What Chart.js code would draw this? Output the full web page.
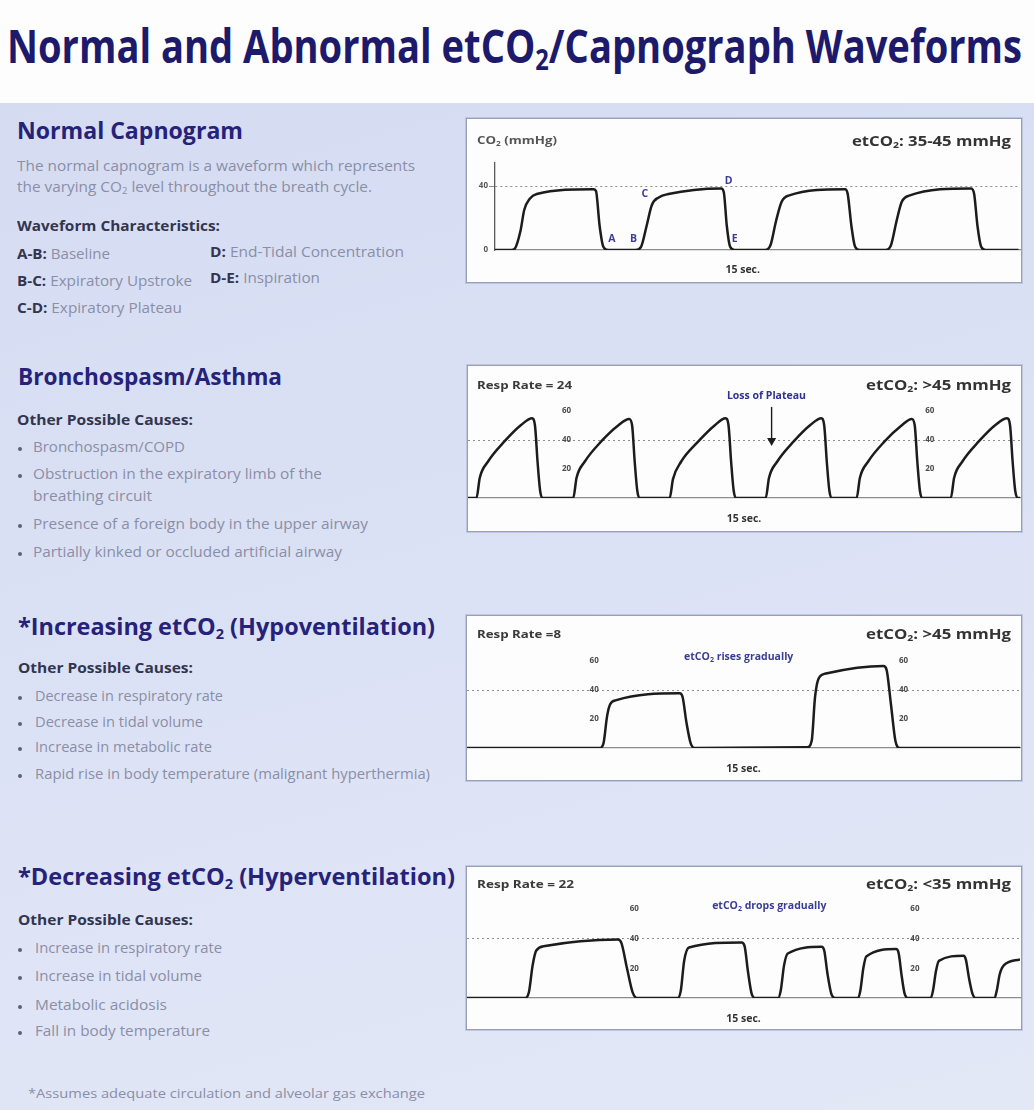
<!DOCTYPE html>
<html>
<head>
<meta charset="utf-8">
<title>Normal and Abnormal etCO2/Capnograph Waveforms</title>
<script src="https://cdn.jsdelivr.net/npm/chart.js@4.4.1/dist/chart.umd.min.js"></script>
<style>
  html, body { margin: 0; padding: 0; }
  body { width: 1034px; height: 1110px; position: relative; overflow: hidden;
    font-family: "Open Sans", sans-serif; background: #fdfdfe; }
  #panel { position: absolute; left: 0; top: 103px; width: 1034px; height: 1007px;
    background: linear-gradient(165deg, #d5dcf2 0%, #dce2f5 50%, #e3e8f7 100%); }
  .t { position: absolute; white-space: nowrap; transform-origin: 0 50%; line-height: 1; }
  .t sub { font-size: 0.62em; vertical-align: -0.25em; line-height: 0; }
  .title { font-weight: 700; color: #1d1a6c; font-size: 46px; }
  .head { font-weight: 700; color: #26227a; font-size: 23px; }
  .body { color: #8a8ea6; font-size: 14px; }
  .subh { font-weight: 700; color: #33354f; font-size: 13.5px; }
  .body b { color: #33354f; }
  .foot { color: #8a8ea6; font-size: 13px; }
  .capS { font-weight: 700; color: #555; font-size: 10px; }
  .capM { font-weight: 700; color: #3a3a3a; font-size: 11px; }
  .capL { font-weight: 700; color: #333; font-size: 15px; }
  .dot { position: absolute; width: 4px; height: 4px; border-radius: 50%; background: #5d6178; }
  .box { position: absolute; background: #fdfdfe; border: 1px solid #98a0b8;
    box-shadow: 0 0 0 1px rgba(165, 175, 205, 0.55); }
  .box canvas { position: absolute; left: 0; top: 0; }
</style>
</head>
<body>
<div id="panel"></div>
<div class="box" id="box1" style="left:466px;top:118px;width:554px;height:163px"><canvas id="normalChart" width="554" height="163"></canvas></div>
<div class="box" id="box2" style="left:467px;top:365px;width:553px;height:165px"><canvas id="bronchoChart" width="553" height="165"></canvas></div>
<div class="box" id="box3" style="left:466px;top:615px;width:554px;height:164px"><canvas id="hypoChart" width="554" height="164"></canvas></div>
<div class="box" id="box4" style="left:466px;top:866px;width:554px;height:162px"><canvas id="hyperChart" width="554" height="162"></canvas></div>
<script>
// waveform values: time in seconds, CO2 in mmHg
const normalTime = [0, 0.44, 0.54, 0.69, 0.79, 0.94, 1.13, 2.66, 2.73, 2.83, 2.93, 3.06,
  3.80, 3.95, 4.10, 4.24, 4.44, 4.69, 6.12, 6.19, 6.27, 6.36, 6.48,
  7.30, 7.45, 7.60, 7.75, 7.94, 9.47, 9.54, 9.64, 9.74, 9.87,
  10.56, 10.71, 10.86, 11.00, 11.20, 12.88, 12.96, 13.05, 13.15, 13.27, 14.16];
const normalCO2 = [0, 0, 1, 12, 25, 32, 35, 38, 37, 15, 2, 0,
  0, 2, 15, 28, 33, 35, 38.5, 36, 15, 2, 0,
  0, 3, 18, 30, 34, 38, 35, 15, 2, 0,
  0, 3, 18, 30, 34, 38.5, 35, 15, 2, 0, 0];

const bronchoTime = [0, 0.23, 0.32, 0.54, 0.99, 1.45, 1.74, 1.82, 1.89, 1.96, 2.02,
  2.86, 2.95, 3.17, 3.62, 4.08, 4.38, 4.46, 4.53, 4.60, 4.66,
  5.48, 5.57, 5.79, 6.24, 6.70, 7.00, 7.08, 7.15, 7.22, 7.28,
  8.09, 8.18, 8.40, 8.85, 9.31, 9.60, 9.68, 9.75, 9.82, 9.88,
  10.56, 10.65, 10.87, 11.32, 11.78, 12.06, 12.14, 12.21, 12.28, 12.34,
  13.12, 13.21, 13.43, 13.88, 14.34, 14.65, 14.73, 14.80, 14.87, 14.94, 15];
const bronchoCO2 = [0, 0, 14, 25, 39, 50.5, 55, 50, 25, 5, 0,
  0, 14, 25, 39, 50, 54.5, 50, 25, 5, 0,
  0, 13, 25, 38.5, 50, 55, 50, 25, 5, 0,
  0, 14, 25, 39, 50.5, 55, 50, 25, 5, 0,
  0, 14, 25, 39, 50, 54.5, 50, 25, 5, 0,
  0, 14, 25, 39, 50.5, 55, 50, 25, 5, 0, 0];

const hypoTime = [0, 3.60, 3.70, 3.80, 3.88, 4.05, 5.77, 5.85, 5.95, 6.07, 6.19,
  9.23, 9.35, 9.44, 9.54, 9.77, 11.30, 11.38, 11.50, 11.62, 11.74, 15];
const hypoCO2 = [0, 0, 3, 22, 30, 33, 37.7, 35, 18, 3, 0,
  0.5, 5, 35, 48, 51.5, 56.5, 54, 30, 5, 0, 0];

const hyperTime = [0, 1.58, 1.68, 1.78, 1.88, 2.12, 4.10, 4.19, 4.34, 4.49, 4.61,
  5.72, 5.80, 5.89, 6.02, 7.45, 7.53, 7.62, 7.72, 7.82,
  8.44, 8.51, 8.60, 8.70, 9.62, 9.69, 9.78, 9.88, 9.98,
  10.61, 10.67, 10.75, 10.83, 11.64, 11.71, 11.79, 11.87, 11.97,
  12.58, 12.64, 12.72, 12.80, 13.47, 13.53, 13.62, 13.71, 13.80,
  14.31, 14.37, 14.45, 14.56, 15];
const hyperCO2 = [0, 0, 4, 22, 32, 35, 39.5, 37, 20, 4, 0,
  0, 5, 25, 34, 37.5, 35, 18, 3, 0,
  0, 5, 22, 30, 34.5, 32, 16, 3, 0,
  0, 5, 20, 28, 33, 30, 15, 3, 0,
  0, 5, 18, 25, 28.5, 26, 13, 3, 0,
  0, 5, 16, 22, 26];

// axis ticks
const normalAxisTicks = [0, 40];
const gridValues = [40];
const tickValues = [60, 40, 20];
const bronchoTickTimes = [2.68, 12.55];
const hypoTickTimes = [3.45, 11.84];
const hyperTickTimes = [4.54, 12.15];

// labels placed on the waveforms
const normalLetters = ["A", "B", "C", "D", "E"];
const normalLetterTimes = [3.16, 3.75, 4.05, 6.32, 6.48];
const normalLetterValues = [7, 7, 35, 43, 7];

Chart.defaults.font.family = "'Open Sans', sans-serif";

function drawSubText(ctx, text, cx, cy, size, color) {
  const parts = text.split("_2");
  const main = `bold ${size}px "Open Sans", sans-serif`;
  const small = `bold ${Math.round(size * 0.65)}px "Open Sans", sans-serif`;
  ctx.font = small;
  const sw = ctx.measureText("2").width;
  ctx.font = main;
  const total = parts.reduce((s, p) => s + ctx.measureText(p).width, 0) + sw * (parts.length - 1);
  let xx = cx - total / 2;
  ctx.fillStyle = color;
  ctx.textAlign = "left";
  ctx.textBaseline = "middle";
  parts.forEach((p, i) => {
    ctx.font = main;
    ctx.fillText(p, xx, cy);
    xx += ctx.measureText(p).width;
    if (i < parts.length - 1) {
      ctx.font = small;
      ctx.fillText("2", xx, cy + size * 0.3);
      xx += sw;
    }
  });
}

const marksPlugin = (marks) => ({
  id: "waveMarks",
  afterDatasetsDraw(chart) {
    const { ctx, scales: { x, y } } = chart;
    ctx.save();
    (marks.tickTimes || []).forEach((t) => {
      tickValues.forEach((v) => {
        drawSubText(ctx, String(v), x.getPixelForValue(t), y.getPixelForValue(v), 8, "#4b4b4b");
      });
    });
    (marks.notes || []).forEach((n) => {
      drawSubText(ctx, n.text, x.getPixelForValue(n.t), y.getPixelForValue(n.v), n.size, n.color);
    });
    (marks.arrows || []).forEach((a) => {
      const px = x.getPixelForValue(a.t);
      const y1 = y.getPixelForValue(a.from);
      const y2 = y.getPixelForValue(a.to);
      ctx.strokeStyle = "#1c1c1c";
      ctx.fillStyle = "#1c1c1c";
      ctx.lineWidth = 1.4;
      ctx.beginPath();
      ctx.moveTo(px, y1);
      ctx.lineTo(px, y2 - 7);
      ctx.stroke();
      ctx.beginPath();
      ctx.moveTo(px - 4.5, y2 - 8);
      ctx.lineTo(px + 4.5, y2 - 8);
      ctx.lineTo(px, y2);
      ctx.closePath();
      ctx.fill();
    });
    ctx.restore();
  },
});

function makeWave(id, times, values, opt) {
  const points = times.map((t, i) => ({ x: t, y: values[i] }));
  const withAxis = !!opt.axisTicks;
  return new Chart(document.getElementById(id), {
    type: "line",
    data: {
      datasets: [{
        data: points,
        borderColor: "#1c1c1c",
        borderWidth: 2.5,
        pointRadius: 0,
        fill: false,
        cubicInterpolationMode: "monotone",
      }],
    },
    options: {
      responsive: false,
      animation: false,
      events: [],
      layout: { padding: { top: opt.top, right: 1, left: 0, bottom: 0 } },
      plugins: { legend: { display: false }, tooltip: { enabled: false } },
      scales: {
        x: {
          type: "linear",
          min: 0,
          max: opt.xMax,
          grid: { display: false },
          ticks: { display: false },
          border: { display: true, color: "#8d8d8d", width: 1.3 },
          title: {
            display: !withAxis,
            text: "15 sec.",
            color: "#333",
            font: { size: 10.5, weight: "bold" },
            padding: { top: 0, bottom: opt.capPad },
          },
          afterFit: (s) => { s.height = opt.xH; },
        },
        y: {
          min: 0,
          max: opt.yMax,
          afterBuildTicks: (s) => {
            s.ticks = (withAxis ? opt.axisTicks : gridValues).map((v) => ({ value: v }));
          },
          afterFit: (s) => { s.width = withAxis ? 28 : 0; },
          ticks: {
            display: withAxis,
            color: "#555",
            padding: 1,
            font: { size: 8, weight: "bold" },
          },
          grid: {
            color: (c) => (c.tick && c.tick.value === 40 ? "#8e8e8e" : "transparent"),
            lineWidth: 1,
            drawTicks: withAxis,
            tickLength: 6,
          },
          border: { display: withAxis, color: "#5a5a5a", width: 1.3, dash: [2, 3] },
        },
      },
    },
    plugins: [marksPlugin(opt.marks || {})],
  });
}

makeWave("normalChart", normalTime, normalCO2, {
  xMax: 14.2, yMax: 54.4, top: 44, xH: 32, capPad: 5.4, axisTicks: normalAxisTicks,
  marks: {
    notes: normalLetters.map((l, i) => ({
      text: l, t: normalLetterTimes[i], v: normalLetterValues[i], size: 10.5, color: "#3a3d96",
    })).concat([{ text: "15 sec.", t: 6.7, v: -12.3, size: 10.5, color: "#333" }]),
  },
});

makeWave("bronchoChart", bronchoTime, bronchoCO2, {
  xMax: 15, yMax: 60, top: 45, xH: 33, capPad: 5.4,
  marks: {
    tickTimes: bronchoTickTimes,
    notes: [{ text: "Loss of Plateau", t: 8.11, v: 70, size: 10.5, color: "#2f3290" }],
    arrows: [{ t: 8.25, from: 62.8, to: 35.9 }],
  },
});

makeWave("hypoChart", hypoTime, hypoCO2, {
  xMax: 15, yMax: 60, top: 45, xH: 32, capPad: 4.4,
  marks: {
    tickTimes: hypoTickTimes,
    notes: [{ text: "etCO_2 rises gradually", t: 7.37, v: 63, size: 10.5, color: "#3a3d96" }],
  },
});

makeWave("hyperChart", hyperTime, hyperCO2, {
  xMax: 15, yMax: 60, top: 42, xH: 31, capPad: 3.4,
  marks: {
    tickTimes: hyperTickTimes,
    notes: [{ text: "etCO_2 drops gradually", t: 8.2, v: 62, size: 10.5, color: "#3a3d96" }],
  },
});

// page text: html, x, centre y, width, class, align
const textLines = [
  ["Normal and Abnormal etCO<sub>2</sub>/Capnograph Waveforms", 7, 48, 1015, "title"],
  ["Normal Capnogram", 17, 132, 226, "head"],
  ["The normal capnogram is a waveform which represents", 17, 167, 398, "body"],
  ["the varying CO<sub>2</sub> level throughout the breath cycle.", 17, 188, 355, "body"],
  ["Waveform Characteristics:", 17, 228, 203, "subh"],
  ["<b>A-B:</b> Baseline", 17, 255, 93, "body"],
  ["<b>D:</b> End-Tidal Concentration", 210, 253, 194, "body"],
  ["<b>B-C:</b> Expiratory Upstroke", 17, 282, 175, "body"],
  ["<b>D-E:</b> Inspiration", 210, 279, 110, "body"],
  ["<b>C-D:</b> Expiratory Plateau", 17, 309, 165, "body"],
  ["Bronchospasm/Asthma", 18, 378, 264, "head"],
  ["Other Possible Causes:", 17, 422, 176, "subh"],
  ["Bronchospasm/COPD", 33, 448, 152, "body"],
  ["Obstruction in the expiratory limb of the", 33, 475, 289, "body"],
  ["breathing circuit", 33, 497, 119, "body"],
  ["Presence of a foreign body in the upper airway", 33, 525, 335, "body"],
  ["Partially kinked or occluded artificial airway", 33, 553, 309, "body"],
  ["*Increasing etCO<sub>2</sub> (Hypoventilation)", 18, 628, 417, "head"],
  ["Other Possible Causes:", 18, 670, 175, "subh"],
  ["Decrease in respiratory rate", 35, 697, 188, "body"],
  ["Decrease in tidal volume", 35, 723, 168, "body"],
  ["Increase in metabolic rate", 35, 748, 177, "body"],
  ["Rapid rise in body temperature (malignant hyperthermia)", 35, 775, 395, "body"],
  ["*Decreasing etCO<sub>2</sub> (Hyperventilation)", 18, 878, 437, "head"],
  ["Other Possible Causes:", 18, 922, 175, "subh"],
  ["Increase in respiratory rate", 35, 949, 187, "body"],
  ["Increase in tidal volume", 35, 977, 167, "body"],
  ["Metabolic acidosis", 35, 1006, 132, "body"],
  ["Fall in body temperature", 35, 1032, 175, "body"],
  ["*Assumes adequate circulation and alveolar gas exchange", 28, 1094, 397, "foot"],
  ["CO<sub>2</sub> (mmHg)", 477, 141, 80, "capS"],
  ["etCO<sub>2</sub>: 35-45 mmHg", 1011, 141, 159, "capL", "right"],
  ["Resp Rate = 24", 477, 385, 95, "capM"],
  ["etCO<sub>2</sub>: &gt;45 mmHg", 1011, 385, 145, "capL", "right"],
  ["Resp Rate =8", 477, 634, 84, "capM"],
  ["etCO<sub>2</sub>: &gt;45 mmHg", 1011, 634, 145, "capL", "right"],
  ["Resp Rate = 22", 477, 884, 97, "capM"],
  ["etCO<sub>2</sub>: &lt;35 mmHg", 1011, 884, 145, "capL", "right"],
];
const bulletRows = [448, 475, 525, 553, 697, 723, 748, 775, 949, 977, 1006, 1032];

textLines.forEach(([html, x, yc, w, cls, align]) => {
  const el = document.createElement("div");
  el.className = "t " + cls;
  el.innerHTML = html;
  document.body.appendChild(el);
  const fs = parseFloat(getComputedStyle(el).fontSize);
  const actual = el.getBoundingClientRect().width;
  el.style.transform = `scaleX(${w / actual})`;
  el.style.left = (align === "right" ? x - w : x) + "px";
  el.style.top = yc - 0.56 * fs + "px";
});
bulletRows.forEach((yc) => {
  const d = document.createElement("div");
  d.className = "dot";
  d.style.left = "18px";
  d.style.top = yc - 1 + "px";
  document.body.appendChild(d);
});
</script>
</body>
</html>
